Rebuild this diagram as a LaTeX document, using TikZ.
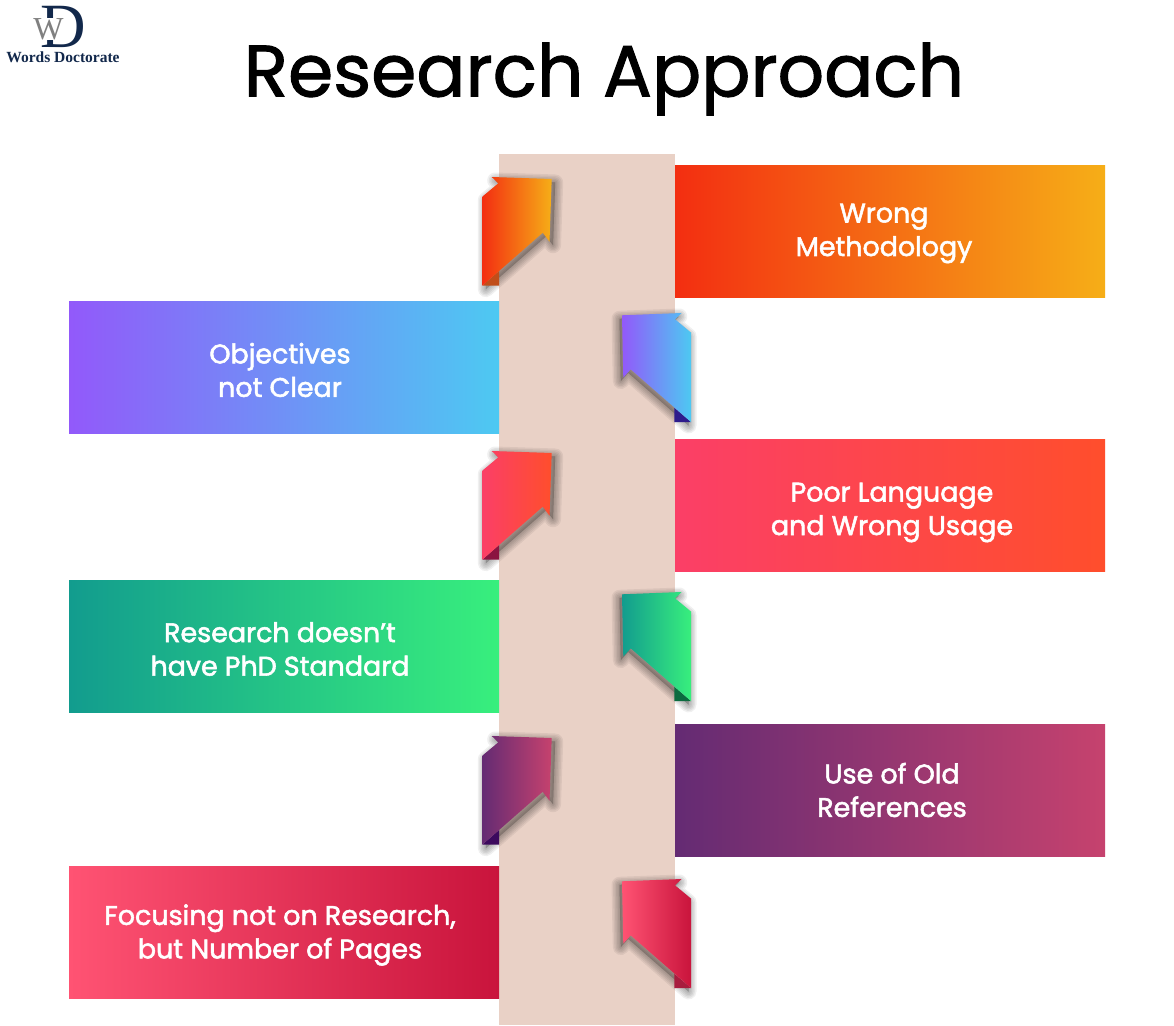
\documentclass[tikz,border=0pt]{standalone}
\usepackage{fontspec}
\setmainfont{Poppins}
\newfontfamily\logofont{Liberation Serif}
\newfontfamily\headfont[FakeBold=1.4]{Poppins}
\newfontfamily\capfont[FakeBold=2]{Poppins}
\usetikzlibrary{positioning}

\definecolor{colbg}{HTML}{E9D1C6}
\definecolor{navy}{HTML}{12284B}
\definecolor{orangeA}{HTML}{F32E11}
\definecolor{orangeB}{HTML}{F6AE17}
\definecolor{orangeC}{HTML}{C04E1A}
\definecolor{blueA}{HTML}{9259FA}
\definecolor{blueB}{HTML}{4DC9F2}
\definecolor{blueC}{HTML}{2D1B8C}
\definecolor{pinkA}{HTML}{FB3F67}
\definecolor{pinkB}{HTML}{FF4E2C}
\definecolor{pinkC}{HTML}{8B1440}
\definecolor{greenA}{HTML}{129C8E}
\definecolor{greenB}{HTML}{38EF7D}
\definecolor{greenC}{HTML}{0B6B3F}
\definecolor{purpleA}{HTML}{642B73}
\definecolor{purpleB}{HTML}{C6426E}
\definecolor{purpleC}{HTML}{3C0A5E}
\definecolor{redA}{HTML}{FF5373}
\definecolor{redB}{HTML}{C9143C}
\definecolor{redC}{HTML}{A81C3E}

\tikzset{
  band/.style={minimum width=430pt, minimum height=132pt, inner sep=0pt, shading angle=90},
  caption/.style={text=white, align=center, font=\capfont\fontsize{26.9}{33.5}\selectfont},
  shadowline/.style={black, opacity=0.06, line join=round}
}

\newcommand{\lefttabpath}{(491.7,0) -- (551.7,2) -- (549.5,64.7) -- (542.7,55.7) -- (482.3,108.7) -- (482.3,19.7) -- (498.3,6.3) -- cycle}
\newcommand{\righttabpath}{(622,2.3) -- (681.7,0) -- (675,6.3) -- (691,19.6) -- (691,109) -- (630.7,56.3) -- (623.3,64.6) -- cycle}

% folded tab on the left edge of the column, #1 = top y
\newcommand{\lefttab}[4]{
  \begin{scope}[yshift=-#1pt]
    \fill[black, opacity=0.2, shift={(3.5,3.5)}] \lefttabpath;
    \foreach \w in {16,13,10,7,4,1}
      \draw[shadowline, line width=\w pt, shift={(3.5,3.5)}] \lefttabpath;
    \fill[#4] (482.3,108.7) -- (499,94) -- (499,108.7) -- cycle;
    \shade[left color=#2, right color=#3] \lefttabpath;
  \end{scope}
}
% the same on the right edge
\newcommand{\righttab}[4]{
  \begin{scope}[yshift=-#1pt]
    \fill[black, opacity=0.2, shift={(-2.5,3.5)}] \righttabpath;
    \foreach \w in {16,13,10,7,4,1}
      \draw[shadowline, line width=\w pt, shift={(-2.5,3.5)}] \righttabpath;
    \fill[#4] (674.3,94.7) -- (691,109) -- (674.3,109) -- cycle;
    \shade[left color=#2, right color=#3] \righttabpath;
  \end{scope}
}

\begin{document}
\begin{tikzpicture}[x=1pt, y=-1pt]
  \useasboundingbox (0,0) rectangle (1174,1025);

  \fill[white] (0,0) rectangle (1174,1025);

  \node[font=\headfont\fontsize{72.8}{73}\selectfont] (title) at (604,79) {Research Approach};

  % logo
  \node[font=\logofont\fontsize{63}{63}\selectfont, text=navy] (logoD) at (63,27) {D};
  \node[font=\logofont\fontsize{32}{32}\selectfont, text=gray, fill=white, inner sep=0pt] (logoW) at (48.5,29) {W};
  \node[font=\logofont\bfseries\fontsize{15.5}{15.5}\selectfont, text=navy] (logotext) at (63,57) {Words Doctorate};

  \fill[colbg] (499,154) rectangle (675,1025);

  \node[band, left color=orangeA, right color=orangeB] (wrong) at (890,231.5) {};
  \node[band, left color=blueA, right color=blueB] (objectives) at (284,367) {};
  \node[band, left color=pinkA, right color=pinkB] (language) at (890,505) {};
  \node[band, left color=greenA, right color=greenB] (standard) at (284,646) {};
  \node[band, left color=purpleA, right color=purpleB] (references) at (890,790) {};
  \node[band, left color=redA, right color=redB] (pages) at (284,932) {};

  \node[caption, xshift=-6pt, yshift=-2pt] at (wrong) {Wrong\\Methodology};
  \node[caption, xshift=-4pt, yshift=-3pt] at (objectives) {Objectives\\not Clear};
  \node[caption, xshift=2pt, yshift=-7.5pt] at (language) {Poor Language\\and Wrong Usage};
  \node[caption, xshift=-4pt, yshift=-3pt] at (standard) {Research doesn’t\\have PhD Standard};
  \node[caption, xshift=2pt] at (references) {Use of\ Old\\References};
  \node[caption, xshift=-4pt, yshift=-3pt] at (pages) {Focusing not on Research,\\but Number of Pages};

  \lefttab{177}{orangeA}{orangeB}{orangeC}
  \righttab{313}{blueA}{blueB}{blueC}
  \lefttab{451}{pinkA}{pinkB}{pinkC}
  \righttab{592}{greenA}{greenB}{greenC}
  \lefttab{736}{purpleA}{purpleB}{purpleC}
  \righttab{879}{redA}{redB}{redC}
\end{tikzpicture}
\end{document}
